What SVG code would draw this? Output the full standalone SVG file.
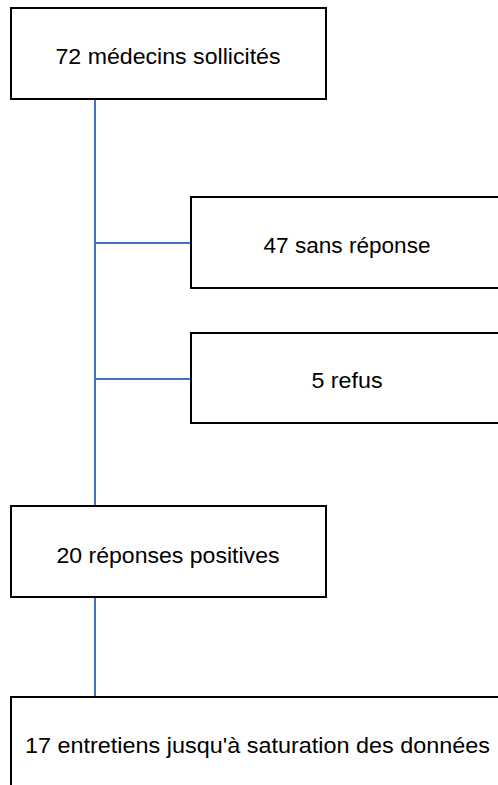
<svg xmlns="http://www.w3.org/2000/svg" width="498" height="785" viewBox="0 0 498 785">
<style>
.box{fill:#fff;stroke:#000;stroke-width:2}
.t{font-family:"Liberation Sans",Arial,sans-serif;font-size:22px;fill:#000}
.c{text-anchor:middle}
.link{stroke:#4472C4;stroke-width:2;fill:none}
</style>
<rect width="498" height="785" fill="#fff"/>
<g id="connectors">
<line class="link" x1="95" y1="99" x2="95" y2="506"/>
<line class="link" x1="95" y1="243" x2="191" y2="243"/>
<line class="link" x1="95" y1="379" x2="191" y2="379"/>
<line class="link" x1="95" y1="597" x2="95" y2="697"/>
</g>
<g id="n1"><rect class="box" x="11" y="8" width="315" height="91"/><text class="t c" x="168" y="64" textLength="225" lengthAdjust="spacingAndGlyphs">72 médecins sollicités</text></g>
<g id="n2"><rect class="box" x="191" y="197" width="320" height="91"/><text class="t c" x="347" y="253" textLength="167" lengthAdjust="spacingAndGlyphs">47 sans réponse</text></g>
<g id="n3"><rect class="box" x="191" y="333" width="320" height="90"/><text class="t c" x="347" y="388" textLength="71" lengthAdjust="spacingAndGlyphs">5 refus</text></g>
<g id="n4"><rect class="box" x="11" y="506" width="315" height="91"/><text class="t c" x="168" y="563" textLength="223" lengthAdjust="spacingAndGlyphs">20 réponses positives</text></g>
<g id="n5"><rect class="box" x="11" y="697" width="500" height="100"/><text class="t" x="25" y="753" textLength="465" lengthAdjust="spacingAndGlyphs">17 entretiens jusqu'à saturation des données</text></g>
</svg>
